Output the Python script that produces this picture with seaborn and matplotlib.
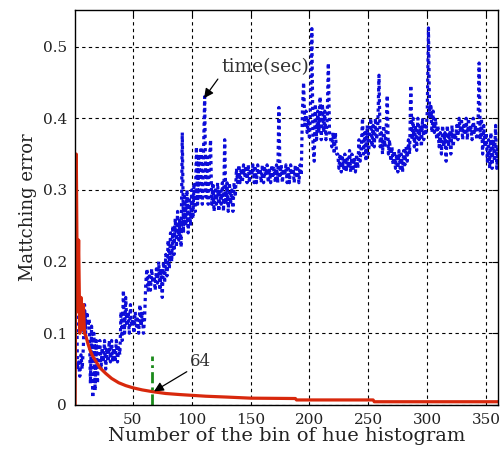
import numpy as np
import pandas as pd
import matplotlib
matplotlib.use("Agg")
import matplotlib.pyplot as plt
import seaborn as sns

# ---------------- data ----------------
time_x = np.arange(2, 361)
time_sec = [
    0.19, 0.05, 0.06, 0.04, 0.07, 0.05, 0.08, 0.14, 0.10, 0.13,
    0.11, 0.12, 0.03, 0.11, 0.01, 0.10, 0.02, 0.09, 0.03, 0.08,
    0.09, 0.05, 0.08, 0.06, 0.09, 0.05, 0.08, 0.06, 0.09, 0.06,
    0.09, 0.06, 0.08, 0.06, 0.09, 0.06, 0.08, 0.07, 0.13, 0.09,
    0.16, 0.10, 0.15, 0.11, 0.13, 0.10, 0.14, 0.11, 0.12, 0.10,
    0.13, 0.11, 0.12, 0.10, 0.14, 0.11, 0.13, 0.10, 0.12, 0.17,
    0.19, 0.16, 0.18, 0.16, 0.19, 0.17, 0.18, 0.16, 0.19, 0.17,
    0.20, 0.16, 0.19, 0.15, 0.20, 0.17, 0.21, 0.18, 0.23, 0.19,
    0.24, 0.20, 0.25, 0.21, 0.26, 0.22, 0.27, 0.23, 0.26, 0.22,
    0.38, 0.24, 0.29, 0.25, 0.30, 0.24, 0.29, 0.25, 0.30, 0.26,
    0.31, 0.27, 0.36, 0.28, 0.35, 0.29, 0.36, 0.28, 0.35, 0.43,
    0.29, 0.35, 0.28, 0.34, 0.37, 0.28, 0.31, 0.27, 0.30, 0.28,
    0.31, 0.27, 0.30, 0.28, 0.31, 0.27, 0.37, 0.28, 0.31, 0.27,
    0.31, 0.28, 0.30, 0.27, 0.31, 0.29, 0.33, 0.31, 0.335, 0.31,
    0.33, 0.31, 0.335, 0.32, 0.33, 0.31, 0.335, 0.31, 0.33, 0.32,
    0.335, 0.31, 0.33, 0.31, 0.335, 0.32, 0.33, 0.31, 0.335, 0.31,
    0.33, 0.32, 0.335, 0.31, 0.33, 0.31, 0.335, 0.32, 0.33, 0.31,
    0.335, 0.31, 0.415, 0.32, 0.335, 0.31, 0.33, 0.32, 0.335, 0.31,
    0.33, 0.31, 0.335, 0.32, 0.33, 0.31, 0.335, 0.32, 0.33, 0.31,
    0.335, 0.32, 0.41, 0.45, 0.39, 0.41, 0.38, 0.40, 0.37, 0.43,
    0.525, 0.36, 0.34, 0.42, 0.37, 0.41, 0.38, 0.43, 0.37, 0.42,
    0.38, 0.41, 0.37, 0.40, 0.477, 0.38, 0.37, 0.36, 0.38, 0.35,
    0.38, 0.35, 0.35, 0.33, 0.35, 0.325, 0.345, 0.33, 0.35, 0.325,
    0.345, 0.33, 0.355, 0.325, 0.35, 0.33, 0.345, 0.325, 0.35, 0.33,
    0.37, 0.34, 0.36, 0.40, 0.35, 0.38, 0.34, 0.39, 0.35, 0.37,
    0.40, 0.36, 0.39, 0.36, 0.40, 0.37, 0.39, 0.46, 0.36, 0.38,
    0.35, 0.39, 0.36, 0.38, 0.432, 0.35, 0.37, 0.34, 0.36, 0.335,
    0.355, 0.33, 0.35, 0.325, 0.355, 0.33, 0.35, 0.325, 0.355, 0.335,
    0.36, 0.34, 0.37, 0.35, 0.446, 0.37, 0.40, 0.36, 0.39, 0.355,
    0.40, 0.37, 0.39, 0.36, 0.40, 0.37, 0.39, 0.38, 0.41, 0.526,
    0.40, 0.42, 0.38, 0.41, 0.38, 0.40, 0.37, 0.39, 0.36, 0.38,
    0.35, 0.39, 0.36, 0.38, 0.34, 0.39, 0.36, 0.38, 0.35, 0.39,
    0.36, 0.38, 0.37, 0.39, 0.37, 0.40, 0.38, 0.40, 0.37, 0.39,
    0.38, 0.40, 0.37, 0.40, 0.38, 0.39, 0.37, 0.40, 0.38, 0.39,
    0.37, 0.38, 0.477, 0.37, 0.40, 0.35, 0.39, 0.36, 0.38, 0.34,
    0.37, 0.33, 0.38, 0.33, 0.37, 0.34, 0.39, 0.33, 0.36,
]

err_x = [1, 2, 3, 4, 5, 6, 7, 8, 9, 10, 12, 14, 16, 19, 22, 27, 32, 38, 44,
         50, 58, 67, 78, 90, 112, 130, 150, 188, 189, 254, 255, 360]
match_err = [0.0, 0.35, 0.13, 0.23, 0.10, 0.15, 0.105, 0.14, 0.10, 0.097,
             0.085, 0.075, 0.068, 0.060, 0.052, 0.044, 0.037, 0.031, 0.027,
             0.024, 0.021, 0.0185, 0.016, 0.0145, 0.0122, 0.011, 0.0095,
             0.009, 0.007, 0.007, 0.0045, 0.0045]

marker_x = [66, 66]
marker_y = [0.0, 0.068]

x_ticks = [50, 100, 150, 200, 250, 300, 350]
y_ticks = [0, 0.1, 0.2, 0.3, 0.4, 0.5]
y_ticklabels = ["0", "0.1", "0.2", "0.3", "0.4", "0.5"]

# ---------------- plot ----------------
sns.set_style("white")
plt.rcParams["font.family"] = ["DejaVu Serif"]

fig = plt.figure(figsize=(5.04, 4.54), dpi=100)
ax = fig.add_axes([0.149, 0.108, 0.839, 0.870])

df_time = pd.DataFrame({"x": time_x, "y": time_sec})
df_err = pd.DataFrame({"x": err_x, "y": match_err})
df_mark = pd.DataFrame({"x": marker_x, "y": marker_y})

sns.lineplot(data=df_time, x="x", y="y", ax=ax, color="#0c0cd8",
             linewidth=2.3, linestyle=(0, (1, 1.1)), sort=False,
             estimator=None)
sns.lineplot(data=df_err, x="x", y="y", ax=ax, color="#d8280c",
             linewidth=2.3, sort=False, estimator=None)
sns.lineplot(data=df_mark, x="x", y="y", ax=ax, color="#1a8a1a",
             linewidth=2.0, linestyle=(0, (4, 1.5, 1, 1.5)), sort=False,
             estimator=None)

ax.set_xlim(1, 360)
ax.set_ylim(0, 0.551)
ax.set_xticks(x_ticks)
ax.set_yticks(y_ticks)
ax.set_yticklabels(y_ticklabels)
ax.tick_params(direction="in", length=4, width=0.8, labelsize=11,
               top=True, right=True, colors="black", pad=6)
for lab in ax.get_xticklabels() + ax.get_yticklabels():
    lab.set_color("#222222")

ax.grid(True, color="black", linestyle=(0, (3, 3)), linewidth=0.8)
for s in ax.spines.values():
    s.set_color("black")
    s.set_linewidth(1.0)

ax.set_xlabel("Number of the bin of hue histogram", fontsize=14, labelpad=0,
              color="#222222")
ax.set_ylabel("Mattching error", fontsize=13, labelpad=4, color="#222222")

ax.annotate("time(sec)", xy=(110.5, 0.428), xytext=(125, 0.471),
            ha="left", va="center", fontsize=13.5, color="#333333",
            arrowprops=dict(arrowstyle="-|>", color="black", lw=0.9,
                            mutation_scale=14, relpos=(0.0, 0.1),
                            shrinkA=0, shrinkB=0))
ax.annotate("64", xy=(68, 0.019), xytext=(98.6, 0.061),
            ha="left", va="center", fontsize=12, color="#333333",
            arrowprops=dict(arrowstyle="-|>", color="black", lw=0.9,
                            mutation_scale=14, relpos=(0.0, 0.0),
                            shrinkA=0, shrinkB=0))

fig.savefig("out.png", dpi=100)
